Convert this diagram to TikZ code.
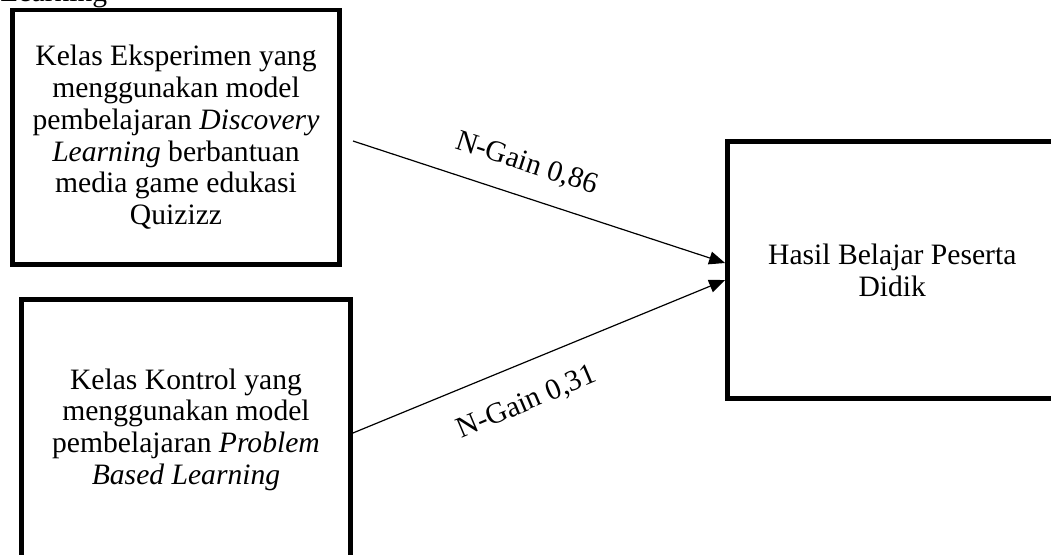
\documentclass[tikz,border=0pt]{standalone}
\usepackage{fontspec}
\setmainfont{Liberation Serif}
\usetikzlibrary{arrows.meta}
\tikzset{
  box/.style={draw=black, line width=2.4pt, align=center, inner sep=0pt,
    font=\fontsize{14.8pt}{15.9pt}\selectfont},
  conn/.style={line width=0.6pt, -{Triangle[length=8pt,width=6.5pt]}},
  lbl/.style={font=\fontsize{14.8pt}{15.9pt}\selectfont, inner sep=0pt}
}
\begin{document}
\begin{tikzpicture}[x=0.5pt,y=-0.5pt]
\useasboundingbox (0,0) rectangle (1051,554);
\clip (0,0) rectangle (1051,554);
\node[lbl, anchor=base west] (prev) at (0,1) {Learning};
\node[box, minimum width=163.5pt, minimum height=127.25pt] (b1) at (176,137.25)
  {Kelas Eksperimen yang\\ menggunakan model\\ pembelajaran \textit{Discovery}\\ \textit{Learning} berbantuan\\ media game edukasi\\ Quizizz};
\node[box, minimum width=164.5pt, minimum height=130.25pt] (b2) at (186,429.75)
  {Kelas Kontrol yang\\ menggunakan model\\ pembelajaran \textit{Problem}\\ \textit{Based Learning}};
\node[box, minimum width=164.75pt, minimum height=128.5pt] (b3) at (892.25,270)
  {Hasil Belajar Peserta\\ Didik};
\coordinate (s1) at (353,141);
\draw[conn] (s1) -- ([yshift=3.5pt]b3.west);
\draw[conn] (b2.east |- 0,433) -- ([yshift=-5pt]b3.west);
\node[lbl, rotate=-18] (g1) at (527,164) {N-Gain 0,86};
\node[lbl, rotate=23] (g2) at (527,403) {N-Gain 0,31};
\end{tikzpicture}
\end{document}
